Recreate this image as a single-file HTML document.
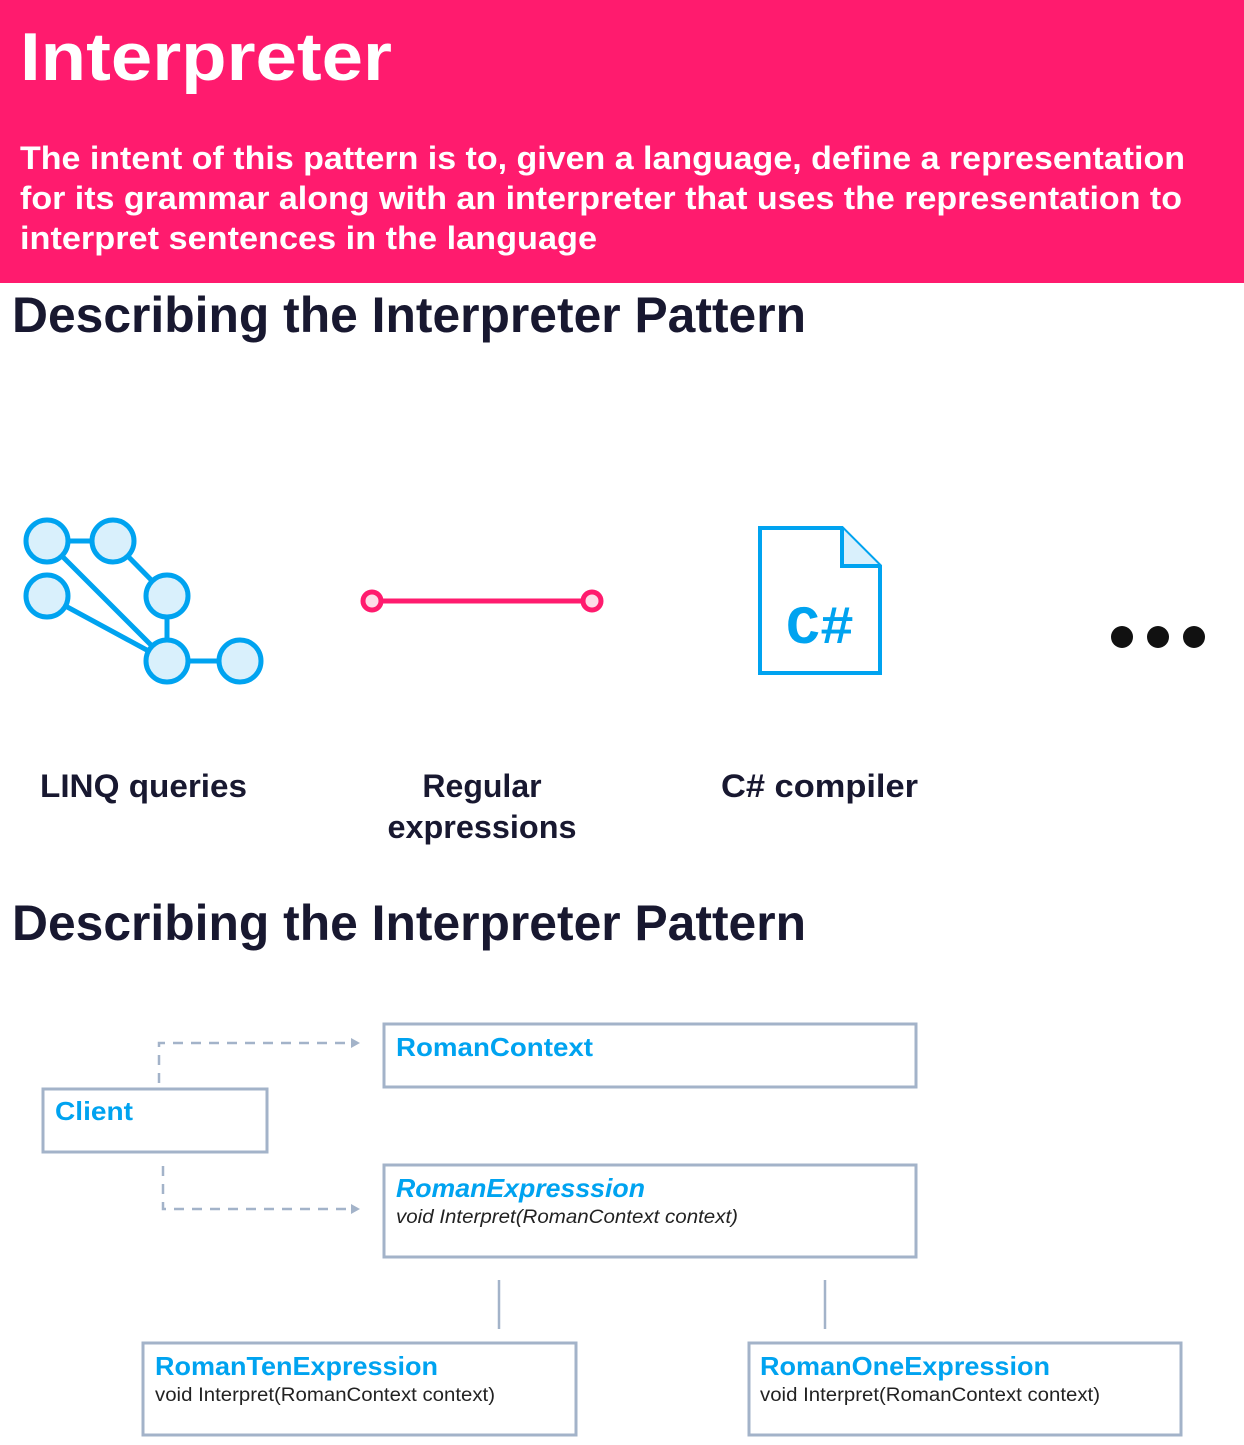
<!DOCTYPE html>
<html><head><meta charset="utf-8"><style>
html,body{margin:0;padding:0;background:#fff;}
svg{display:block}
</style></head><body>
<svg width="1244" height="1445" viewBox="0 0 1244 1445" xmlns="http://www.w3.org/2000/svg" font-family="Liberation Sans, sans-serif">
<rect x="0" y="0" width="1244" height="283" fill="#FF1B6E"/>
<text x="20" y="80" font-size="68" font-weight="bold" fill="#fff" textLength="372" lengthAdjust="spacingAndGlyphs">Interpreter</text>
<g font-size="32" font-weight="bold" fill="#fff">
<text x="20" y="169" textLength="1165" lengthAdjust="spacingAndGlyphs">The intent of this pattern is to, given a language, define a representation</text>
<text x="20" y="209" textLength="1162" lengthAdjust="spacingAndGlyphs">for its grammar along with an interpreter that uses the representation to</text>
<text x="20" y="249" textLength="577" lengthAdjust="spacingAndGlyphs">interpret sentences in the language</text>
</g>
<g font-size="50" font-weight="bold" fill="#181830">
<text x="12" y="332" textLength="794" lengthAdjust="spacingAndGlyphs">Describing the Interpreter Pattern</text>
<text x="12" y="940" textLength="794" lengthAdjust="spacingAndGlyphs">Describing the Interpreter Pattern</text>
</g>
<g stroke="#00A3F0" stroke-width="5" fill="#D9F0FC">
<line x1="47" y1="541" x2="113" y2="541"/>
<line x1="113" y1="541" x2="167" y2="596"/>
<line x1="47" y1="541" x2="167" y2="661"/>
<line x1="47" y1="596" x2="167" y2="661"/>
<line x1="167" y1="596" x2="167" y2="661"/>
<line x1="167" y1="661" x2="240" y2="661"/>
<circle cx="47" cy="541" r="21"/>
<circle cx="113" cy="541" r="21"/>
<circle cx="47" cy="596" r="21"/>
<circle cx="167" cy="596" r="21"/>
<circle cx="167" cy="661" r="21"/>
<circle cx="240" cy="661" r="21"/>
</g>
<g stroke="#FF1B6E" stroke-width="5" fill="#FDDDE8">
<line x1="381" y1="601" x2="582" y2="601"/>
<circle cx="372" cy="601" r="9"/>
<circle cx="592" cy="601" r="9"/>
</g>
<g stroke="#00A3F0" stroke-width="4" fill="none">
<path d="M760 528 H842 L880 566 V673 H760 Z"/>
<path d="M842 528 V566 H880" fill="#D9F0FC"/>
</g>
<text x="820" y="643" font-family="Liberation Mono, monospace" font-size="54" font-weight="bold" fill="#00A3F0" text-anchor="middle" textLength="68" lengthAdjust="spacingAndGlyphs">C#</text>
<g fill="#111">
<circle cx="1122" cy="637" r="11"/><circle cx="1158" cy="637" r="11"/><circle cx="1194" cy="637" r="11"/>
</g>
<g font-size="32" font-weight="bold" fill="#181830">
<text x="40" y="797" textLength="207" lengthAdjust="spacingAndGlyphs">LINQ queries</text>
<text x="482" y="797" text-anchor="middle">Regular</text>
<text x="482" y="838" text-anchor="middle" textLength="189" lengthAdjust="spacingAndGlyphs">expressions</text>
<text x="721" y="797" textLength="197" lengthAdjust="spacingAndGlyphs">C# compiler</text>
</g>
<g stroke="#A3B3C9" stroke-width="3" fill="none">
<rect x="384" y="1024" width="532" height="63"/>
<rect x="43" y="1089" width="224" height="63"/>
<rect x="384" y="1165" width="532" height="92"/>
<rect x="143" y="1343" width="433" height="92"/>
<rect x="749" y="1343" width="432" height="92"/>
<line x1="499" y1="1280" x2="499" y2="1329" stroke-width="2.5"/>
<line x1="825" y1="1280" x2="825" y2="1329" stroke-width="2.5"/>
<path d="M159 1083 V1043 H352" stroke-dasharray="10 8" stroke-width="2.5"/>
<path d="M163 1166 V1209 H352" stroke-dasharray="10 8" stroke-width="2.5"/>
</g>
<g fill="#A3B3C9">
<path d="M360 1043 L351 1038 V1048 Z"/>
<path d="M360 1209 L351 1204 V1214 Z"/>
</g>
<g font-size="26" font-weight="bold" fill="#00A3F0">
<text x="396" y="1056" textLength="197" lengthAdjust="spacingAndGlyphs">RomanContext</text>
<text x="55" y="1120" textLength="78" lengthAdjust="spacingAndGlyphs">Client</text>
<text x="396" y="1197" font-style="italic" textLength="249" lengthAdjust="spacingAndGlyphs">RomanExpresssion</text>
<text x="155" y="1375" textLength="283" lengthAdjust="spacingAndGlyphs">RomanTenExpression</text>
<text x="760" y="1375" textLength="290" lengthAdjust="spacingAndGlyphs">RomanOneExpression</text>
</g>
<g font-size="19" fill="#222">
<text x="396" y="1223" font-style="italic" textLength="342" lengthAdjust="spacingAndGlyphs">void Interpret(RomanContext context)</text>
<text x="155" y="1401" textLength="340" lengthAdjust="spacingAndGlyphs">void Interpret(RomanContext context)</text>
<text x="760" y="1401" textLength="340" lengthAdjust="spacingAndGlyphs">void Interpret(RomanContext context)</text>
</g>
</svg>
</body></html>
